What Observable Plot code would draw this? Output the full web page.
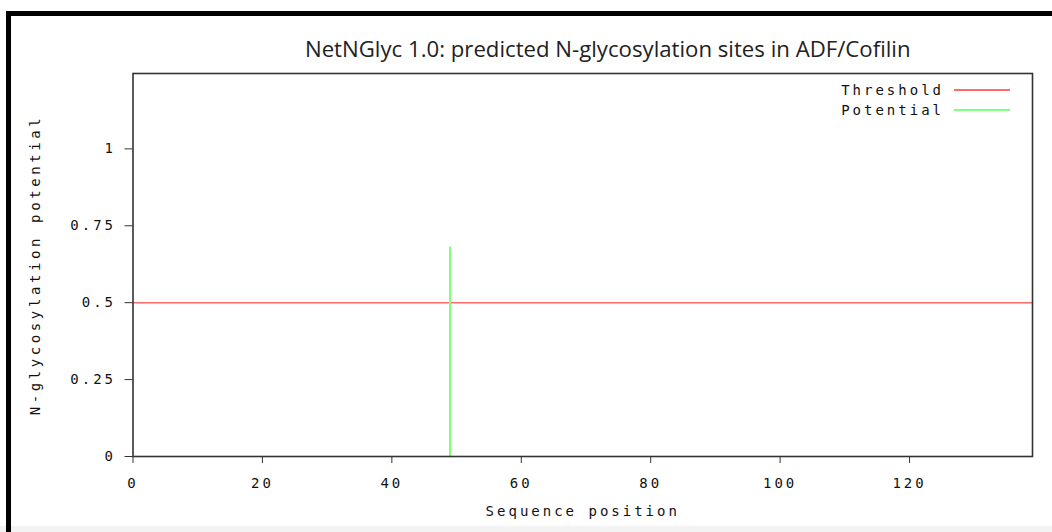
<!DOCTYPE html>
<html>
<head>
<meta charset="utf-8">
<script src="https://cdn.jsdelivr.net/npm/d3@7"></script>
<script src="https://cdn.jsdelivr.net/npm/@observablehq/plot@0.6"></script>
<style>
  html, body { margin: 0; padding: 0; background: #fff; }
  #wrap { position: relative; width: 1052px; height: 532px; overflow: hidden; }
  .deco { position: absolute; }
  #legend { position: absolute; right: 42px; top: 80px; font-family: "DejaVu Sans Mono", monospace; font-size: 14px; letter-spacing: 3px; color: #111; }
  #legend .row { display: flex; align-items: center; justify-content: flex-end; height: 20px; }
  #legend svg { margin-left: 10px; }
</style>
</head>
<body>
<div id="wrap"></div>
<script>
const title = "NetNGlyc 1.0: predicted N-glycosylation sites in ADF/Cofilin";
const xLabel = "Sequence position";
const yLabel = "N-glycosylation potential";
const xTicks = [0, 20, 40, 60, 80, 100, 120];
const yTicks = [0, 0.25, 0.5, 0.75, 1];
const yTickLabels = ["0", "0.25", "0.5", "0.75", "1"];
const thresholdPos = [0, 139];
const thresholdVal = [0.5, 0.5];
const sitePos = [49];
const siteVal = [0.681];
const seriesNames = ["Threshold", "Potential"];
const seriesColors = ["#ff6b6b", "#80ff80"];

const threshold = thresholdPos.map((x, i) => ({x, y: thresholdVal[i]}));
const sites = sitePos.map((x, i) => ({x, y: siteVal[i]}));

const mono = "'DejaVu Sans Mono', monospace";

const chart = Plot.plot({
  width: 1052,
  height: 532,
  marginLeft: 132.5,
  marginRight: 20,
  marginTop: 73,
  marginBottom: 76,
  style: {fontFamily: mono, fontSize: "14px", color: "#111", background: "transparent"},
  x: {domain: [0, 139]},
  y: {domain: [0, 1.245]},
  marks: [
    Plot.line(threshold, {x: "x", y: "y", stroke: seriesColors[0], strokeWidth: 1.6}),
    Plot.ruleX(sites, {x: "x", y1: 0, y2: "y", stroke: seriesColors[1], strokeWidth: 2.2}),
    Plot.frame({stroke: "#333", strokeWidth: 1.6}),
    Plot.axisX({ticks: xTicks, tickSize: 7, tickPadding: 15, tickFormat: d => String(d), label: null, stroke: "#333"}),
    Plot.axisY({ticks: yTicks, tickSize: 8, tickPadding: 9, tickFormat: d => yTickLabels[yTicks.indexOf(d)], label: null, stroke: "#333"}),
    Plot.text([xLabel], {frameAnchor: "bottom", dy: 59, fontFamily: mono, fontSize: 14}),
    Plot.text([yLabel], {frameAnchor: "left", textAnchor: "middle", dx: -97, rotate: -90, fontFamily: mono, fontSize: 14}),
    Plot.text([title], {frameAnchor: "top", dy: -32, dx: 25, fontFamily: "'Open Sans', Lato, sans-serif", fontSize: 22.2, fill: "#222"})
  ]
});

d3.select(chart).selectAll("text").each(function() {
  if (this.textContent === yLabel) this.setAttribute("letter-spacing", "3.6px");
  else if (this.textContent !== title) this.setAttribute("letter-spacing", "3px");
});

const wrap = document.getElementById("wrap");
wrap.appendChild(chart);
chart.style.position = "absolute";
chart.style.left = "0";
chart.style.top = "0";

function deco(l, t, w, h, c) {
  const d = document.createElement("div");
  d.className = "deco";
  Object.assign(d.style, {left: l + "px", top: t + "px", width: w + "px", height: h + "px", background: c});
  wrap.appendChild(d);
}
deco(0, 526, 1052, 6, "#f3f3f3");
deco(6, 11, 1046, 5, "#000");
deco(6, 11, 5, 521, "#000");

const legend = document.createElement("div");
legend.id = "legend";
seriesNames.forEach((n, i) => {
  const row = document.createElement("div");
  row.className = "row";
  row.innerHTML = `<span>${n}</span><svg width="56" height="4"><line x1="0" x2="56" y1="2" y2="2" stroke="${seriesColors[i]}" stroke-width="2"/></svg>`;
  legend.appendChild(row);
});
wrap.appendChild(legend);
</script>
</body>
</html>
